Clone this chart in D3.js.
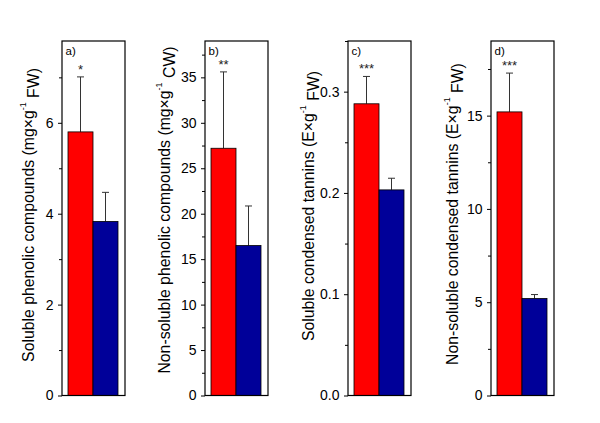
<!DOCTYPE html>
<html><head><meta charset="utf-8">
<script src="https://cdn.jsdelivr.net/npm/d3@7"></script>
<style>body{margin:0;background:#fff}svg{font-family:Arial,"Liberation Sans",sans-serif}</style>
</head><body>
<svg id="c" width="600" height="423"></svg>
<script>
const panelLetters = ["a)", "b)", "c)", "d)"];
const stars = ["*", "**", "***", "***"];
const redValues = [5.8, 27.2, 0.288, 15.2];
const redErrors = [1.21, 8.4, 0.027, 2.08];
const blueValues = [3.83, 16.5, 0.203, 5.2];
const blueErrors = [0.64, 4.35, 0.0115, 0.21];
const yMax = [7.8, 39, 0.35, 19];
const majorTicks = [[0,2,4,6],[0,5,10,15,20,25,30,35],[0,0.1,0.2,0.3],[0,5,10,15]];
const minorTicks = [[1,3,5,7],[2.5,7.5,12.5,17.5,22.5,27.5,32.5,37.5],[0.05,0.15,0.25,0.35],[2.5,7.5,12.5,17.5]];
const tickFormats = [d3.format("d"), d3.format("d"), d3.format(".1f"), d3.format("d")];
const yLabels = [
  ["Soluble phenolic compounds (mg\u00d7g", "-1", " FW)"],
  ["Non-soluble phenolic compounds (mg\u00d7g", "-1", " CW)"],
  ["Soluble condensed tannins (E\u00d7g", "-1", " FW)"],
  ["Non-soluble condensed tannins (E\u00d7g", "-1", " FW)"]
];
const groups = ["red", "blue"];
const colors = {red: "#ff0000", blue: "#000099"};

const frameLeft = [62, 205, 348, 491];
const frameW = 63;
const plotTop = 41, plotBottom = 395.5;
const labelX = [28, 164, 308, 452];
const labelY = [215, 210, 206, 214];

const svg = d3.select("#c");
panelLetters.forEach((letter, i) => {
  const g = svg.append("g").attr("transform", `translate(${frameLeft[i]},0)`);
  const y = d3.scaleLinear().domain([0, yMax[i]]).range([plotBottom, plotTop]);
  const x = d3.scaleBand().domain(groups).range([6, 56]).paddingInner(0);
  const data = [
    {k: "red", v: redValues[i], e: redErrors[i]},
    {k: "blue", v: blueValues[i], e: blueErrors[i]}
  ];
  data.forEach(d => {
    const cx = x(d.k) + x.bandwidth() / 2;
    g.append("line").attr("x1", cx).attr("x2", cx).attr("y1", y(d.v)).attr("y2", y(d.v + d.e))
      .attr("stroke", "#333").attr("stroke-width", 1);
    g.append("line").attr("x1", cx - 3.5).attr("x2", cx + 3.5).attr("y1", y(d.v + d.e)).attr("y2", y(d.v + d.e))
      .attr("stroke", "#333").attr("stroke-width", 1);
  });
  g.selectAll("rect.bar").data(data).join("rect").attr("class", "bar")
    .attr("x", d => x(d.k)).attr("width", x.bandwidth())
    .attr("y", d => y(d.v)).attr("height", d => plotBottom - y(d.v))
    .attr("fill", d => colors[d.k]).attr("stroke", "#000").attr("stroke-width", 0.8);
  g.append("rect").attr("x", 0).attr("y", plotTop).attr("width", frameW).attr("height", plotBottom - plotTop)
    .attr("fill", "none").attr("stroke", "#000").attr("stroke-width", 1.2);
  const ax = g.append("g").call(d3.axisLeft(y).tickValues(majorTicks[i]).tickFormat(tickFormats[i]).tickSize(4).tickPadding(4.5));
  ax.select(".domain").remove();
  ax.selectAll("text").attr("font-size", 14).attr("fill", "#000").attr("font-family", "Arial, 'Liberation Sans', sans-serif");
  const mx = g.append("g").call(d3.axisLeft(y).tickValues(minorTicks[i]).tickFormat("").tickSize(3));
  mx.select(".domain").remove();
  g.append("text").attr("x", 3.5).attr("y", 54.5).attr("font-size", 11.5).text(letter);
  g.append("text").attr("x", x("red") + x.bandwidth() / 2).attr("y", y(redValues[i] + redErrors[i]) - 3)
    .attr("text-anchor", "middle").attr("font-size", 13).attr("fill", "#222").text(stars[i]);
  const lab = svg.append("text").attr("transform", `translate(${labelX[i]},${labelY[i]}) rotate(-90)`)
    .attr("text-anchor", "middle").attr("font-size", 15.8).attr("dy", "0.35em");
  lab.append("tspan").text(yLabels[i][0]);
  lab.append("tspan").attr("font-size", 9).attr("dy", "-0.8em").text(yLabels[i][1]);
  lab.append("tspan").attr("dy", "0.8em").attr("font-size", 15.8).text(yLabels[i][2]);
});
</script>
</body></html>
